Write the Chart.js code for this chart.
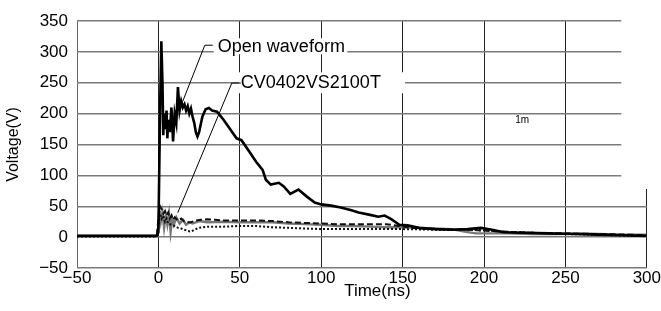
<!DOCTYPE html>
<html>
<head>
<meta charset="utf-8">
<script src="https://cdn.jsdelivr.net/npm/chart.js@4.4.1/dist/chart.umd.min.js"></script>
<style>
  body { margin: 0; background: #fff; }
</style>
</head>
<body>
<canvas id="surgeChart" width="661" height="311"></canvas>
<script>
// 데이터 (시간 ns / 전압 V)
const openTime = [-50, -1, 0, 1, 1.8, 2.5, 3, 3.5, 4, 5, 5.5, 6, 7, 8, 9, 10, 11, 12, 13, 14, 15, 16, 17, 18, 19, 20, 21, 22, 23, 24, 25, 27, 29, 31, 33, 36, 40, 44, 48, 51, 56, 60, 64, 66, 69, 74, 77, 81, 86, 91, 96, 100, 106, 112, 118, 123, 130, 135, 139, 143, 148, 153, 160, 170, 180, 190, 198, 205, 212, 225, 240, 255, 270, 285, 300];
const openVolt = [2, 2, 8, 200, 317, 250, 165, 200, 175, 205, 160, 190, 170, 210, 155, 200, 185, 243, 205, 220, 210, 215, 205, 212, 200, 208, 195, 185, 170, 163, 170, 195, 207, 209, 205, 203, 190, 175, 160, 157, 138, 122, 109, 93, 85, 88, 82, 70, 77, 66, 56, 53, 51, 48, 44, 40, 36, 33, 35, 29, 20, 19, 15, 13, 12, 13, 15, 12, 8, 7, 6, 5, 4, 3, 2];

const dashTime = [-50, -1, 0, 1, 2, 3, 4, 5, 6, 7, 8, 9, 10, 12, 14, 16, 18, 20, 23, 26, 30, 35, 40, 50, 60, 70, 80, 90, 100, 110, 120, 130, 140, 148, 155, 170, 190, 210, 230, 250, 270, 290, 300];
const dashVolt = [2, 2, 30, 50, 45, 38, 42, 35, 40, 30, 35, 28, 32, 27, 30, 25, 24, 24, 27, 28, 29, 28, 27, 27, 27, 26, 24, 23, 22, 21, 21, 21, 21, 18, 15, 13, 12, 9, 7, 6, 5, 4, 3];

const dotTime = [-50, -1, 0, 1, 2, 3, 4, 5, 6, 8, 10, 12, 14, 16, 18, 20, 22, 25, 30, 40, 50, 60, 70, 80, 90, 100, 110, 120, 130, 140, 150, 170, 190, 200, 210, 230, 250, 270, 290, 300];
const dotVolt = [1, 1, 20, 38, 30, 35, 25, 30, 22, 20, 18, 15, 14, 12, 10, 9, 12, 15, 17, 17, 18, 18, 16, 15, 14, 13, 13, 13, 13, 13, 13, 12, 12, 11, 9, 7, 5, 4, 2, 2];

const grayTime = [-50, -1, 0, 0.5, 1.5, 2.5, 3.5, 4.5, 5.5, 6.5, 7.5, 8.5, 9.5, 11, 13, 15, 17, 19, 21, 25, 30, 40, 50, 60, 70, 80, 90, 100, 110, 120, 130, 140, 150, 160, 170, 180, 188, 195, 205, 215, 230, 245, 260, 270, 285, 300];
const grayVolt = [2, 2, 15, 45, 25, 40, 15, 35, 20, 38, 8, 30, 20, 32, 22, 28, 20, 24, 22, 26, 24, 25, 24, 24, 24, 22, 21, 20, 18, 18, 17, 16, 16, 15, 14, 13, 9, 6, 6, 6, 5, 5, 6, 5, 4, 4];

const xTicks = [-50, 0, 50, 100, 150, 200, 250, 300];
const yTicks = [-50, 0, 50, 100, 150, 200, 250, 300, 350];

function toPoints(t, v) {
  return t.map(function(x, i) { return { x: x, y: v[i] }; });
}

const fontFamily = '"Liberation Sans", Arial, sans-serif';

// 주석 (라벨 + 지시선)
const notePlugin = {
  id: 'notes',
  beforeDatasetsDraw: function(chart) {
    const c = chart.ctx, xs = chart.scales.x, ys = chart.scales.y;
    const X = function(v) { return xs.getPixelForValue(v); };
    const Y = function(v) { return ys.getPixelForValue(v); };
    c.save();
    c.fillStyle = '#fff';
    // 오른쪽 위 테두리 지우기
    c.fillRect(X(284.3), Y(350) - 3, X(300) - X(284.3) + 4, Y(78) - Y(350) + 3);
    // 라벨 배경
    c.fillRect(X(34), Y(322), X(116) - X(34), Y(296) - Y(322));
    c.fillRect(X(49.5), Y(267), X(151.5) - X(49.5), Y(233) - Y(267));
    c.restore();
  },
  afterDraw: function(chart) {
    const c = chart.ctx, xs = chart.scales.x, ys = chart.scales.y;
    const X = function(v) { return xs.getPixelForValue(v); };
    const Y = function(v) { return ys.getPixelForValue(v); };
    c.save();
    c.strokeStyle = '#000';
    c.lineWidth = 1;
    c.beginPath();
    c.moveTo(X(33.4), Y(310.8));
    c.lineTo(X(28.5), Y(310.8));
    c.lineTo(X(14.8), Y(219));
    c.moveTo(X(50.6), Y(249.5));
    c.lineTo(X(45.1), Y(249.5));
    c.lineTo(X(11.9), Y(39.5));
    c.stroke();
    c.fillStyle = '#000';
    c.textBaseline = 'middle';
    c.font = '18px ' + fontFamily;
    c.fillText('Open waveform', X(36.5), Y(308));
    c.fillText('CV0402VS2100T', X(50.6), Y(249.5));
    c.font = '10px ' + fontFamily;
    c.textAlign = 'center';
    c.fillText('1m', X(223.4), Y(190));
    // x축 제목
    c.font = '17px ' + fontFamily;
    c.fillText('Time(ns)', X(134.5), xs.bottom - 20);
    c.restore();
  }
};

var ctx = document.getElementById('surgeChart').getContext('2d');
var surgeChart = new Chart(ctx, {
  type: 'line',
  data: {
    datasets: [
      { label: 'Open waveform', data: toPoints(openTime, openVolt), borderColor: '#000', borderWidth: 2.6 },
      { label: 'dashed', data: toPoints(dashTime, dashVolt), borderColor: '#111', borderWidth: 2, borderDash: [6, 3] },
      { label: 'dotted', data: toPoints(dotTime, dotVolt), borderColor: '#111', borderWidth: 2, borderDash: [2, 2] },
      { label: 'CV0402VS2100T', data: toPoints(grayTime, grayVolt), borderColor: '#777', borderWidth: 2.4 }
    ]
  },
  options: {
    responsive: false,
    animation: false,
    events: [],
    elements: { point: { radius: 0 }, line: { tension: 0, fill: false } },
    layout: { padding: { top: 21, right: 11, left: 0, bottom: 0 } },
    plugins: { legend: { display: false }, tooltip: { enabled: false } },
    scales: {
      x: {
        type: 'linear',
        min: -50,
        max: 300,
        afterBuildTicks: function(scale) { scale.ticks = xTicks.map(function(v) { return { value: v }; }); },
        afterFit: function(scale) { scale.height = 43; },
        grid: {
          drawTicks: false,
          color: function(c) { return c.tick && c.tick.value === -50 ? '#666' : '#222'; },
          lineWidth: 1
        },
        border: { display: false },
        ticks: {
          padding: 0,
          color: '#000',
          font: { family: fontFamily, size: 17 },
          callback: function(v) { return v < 0 ? '\u2212' + Math.abs(v) : v; }
        },
        title: { display: false }
      },
      y: {
        min: -50,
        max: 350,
        afterBuildTicks: function(scale) { scale.ticks = yTicks.map(function(v) { return { value: v }; }); },
        afterFit: function(scale) { scale.width = 77; },
        grid: { drawTicks: false, color: '#7a7a7a', lineWidth: 1.5 },
        border: { display: false },
        ticks: {
          padding: 9,
          color: '#000',
          font: { family: fontFamily, size: 17 },
          callback: function(v) { return v < 0 ? '\u2212' + Math.abs(v) : v; }
        },
        title: {
          display: true,
          text: 'Voltage(V)',
          color: '#000',
          font: { family: fontFamily, size: 16 },
          padding: { top: 4, bottom: 0 }
        }
      }
    }
  },
  plugins: [notePlugin]
});
</script>
</body>
</html>
